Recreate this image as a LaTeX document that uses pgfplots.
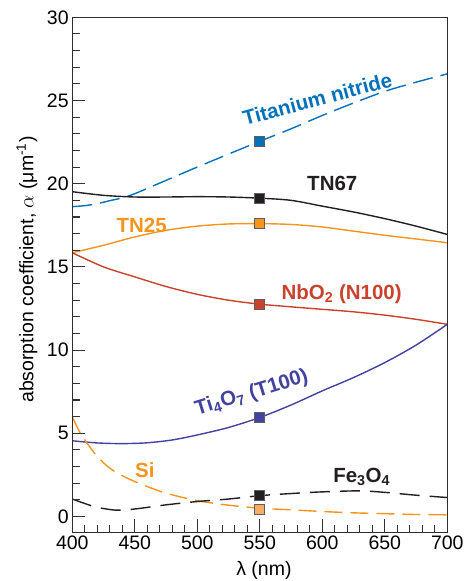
\documentclass[border=0pt]{standalone}
\usepackage{fontspec}
\setmainfont{Liberation Sans}
\usepackage{pgfplots}
\pgfplotsset{compat=1.18}
\definecolor{tinblue}{RGB}{0,114,188}
\definecolor{tnblack}{RGB}{35,31,32}
\definecolor{tnorange}{RGB}{247,148,29}
\definecolor{nbred}{RGB}{203,66,44}
\definecolor{tiblue}{RGB}{66,66,160}
\definecolor{silight}{RGB}{250,172,100}
\definecolor{mkedge}{RGB}{95,95,95}
\definecolor{axgray}{RGB}{45,45,45}
\begin{document}
\begin{tikzpicture}
\begin{axis}[
  name=ax,
  scale only axis,
  width=375pt, height=515pt,
  xmin=400, xmax=700, ymin=-0.95, ymax=30,
  xtick={400,450,...,700}, ytick={0,5,...,30},
  minor x tick num=4, minor y tick num=4,
  xtick align=inside, ytick align=inside,
  xtick pos=left, ytick pos=left,
  major tick length=13pt, minor tick length=7.5pt,
  tick style={black!80, line width=1.1pt},
  axis on top,
  /pgf/number format/assume math mode=true,
  ticklabel style={font=\fontsize{19.5}{22}\selectfont, inner sep=3.5pt},
  xticklabel style={/pgf/number format/1000 sep={}},
  xlabel={λ (nm)},
  ylabel={absorption coefficient, $\alpha$ (μm\textsuperscript{-1})},
  label style={font=\fontsize{19.5}{22}\selectfont},
  xlabel style={at={(axis description cs:0.511,-0.083)}, anchor=base},
  ylabel style={at={(axis description cs:-0.104,0.51)}, anchor=base},
  extra description/.code={
    \draw[axgray, line width=1.3pt] (rel axis cs:0,0) rectangle (rel axis cs:1,1);
  },
]
% Titanium nitride
\addplot[tinblue, smooth, line width=1.4pt, dash pattern=on 20pt off 8pt] coordinates {
 (400,18.62) (410,18.68) (420,18.8) (430,18.98) (440,19.15) (450,19.4) (475,20.2) (500,21.0) (525,21.78) (550,22.55) (575,23.3) (600,24.1) (625,24.85) (650,25.55) (675,26.1) (700,26.6)};
% TN67
\addplot[tnblack, smooth, line width=1.4pt] coordinates {
 (400,19.52) (425,19.3) (450,19.2) (475,19.2) (500,19.22) (525,19.2) (550,19.13) (575,19.0) (600,18.65) (625,18.3) (650,17.9) (675,17.45) (700,16.95)};
% TN25
\addplot[tnorange, smooth, line width=1.4pt] coordinates {
 (400,15.85) (425,16.3) (450,16.8) (475,17.2) (500,17.45) (525,17.58) (550,17.6) (575,17.55) (600,17.4) (625,17.15) (650,16.9) (675,16.68) (700,16.45)};
% NbO2
\addplot[nbred, smooth, line width=1.4pt] coordinates {
 (400,15.85) (425,15.0) (450,14.4) (475,13.82) (500,13.35) (525,13.0) (550,12.76) (575,12.6) (600,12.45) (625,12.3) (650,12.1) (675,11.85) (700,11.55)};
% Ti4O7
\addplot[tiblue, smooth, line width=1.4pt] coordinates {
 (400,4.55) (420,4.42) (440,4.38) (460,4.43) (480,4.6) (500,4.9) (525,5.35) (550,5.95) (575,6.7) (600,7.55) (625,8.35) (650,9.25) (675,10.3) (700,11.55)};
% Si
\addplot[tnorange, smooth, line width=1.4pt, dash pattern=on 18pt off 8pt] coordinates {
 (400,6.0) (405,5.2) (410,4.6) (420,3.6) (430,2.9) (440,2.45) (450,2.1) (460,1.8) (475,1.4) (500,0.95) (525,0.68) (550,0.5) (575,0.4) (600,0.3) (625,0.22) (650,0.17) (675,0.12) (700,0.1)};
% Fe3O4
\addplot[tnblack, smooth, line width=1.4pt, dash pattern=on 20pt off 10pt] coordinates {
 (400,1.05) (410,0.78) (420,0.55) (435,0.38) (450,0.45) (475,0.7) (500,0.9) (525,1.05) (550,1.25) (575,1.38) (600,1.48) (630,1.54) (650,1.45) (675,1.28) (700,1.14)};
% markers at 550 nm
\addplot[only marks, mark=square*, mark size=5pt, mark options={draw=mkedge, fill=tinblue, line width=0.8pt}] coordinates {(550,22.55)};
\addplot[only marks, mark=square*, mark size=5pt, mark options={draw=mkedge, fill=tnblack, line width=0.8pt}] coordinates {(550,19.1)};
\addplot[only marks, mark=square*, mark size=5pt, mark options={draw=mkedge, fill=tnorange, line width=0.8pt}] coordinates {(550,17.6)};
\addplot[only marks, mark=square*, mark size=5pt, mark options={draw=mkedge, fill=nbred, line width=0.8pt}] coordinates {(550,12.76)};
\addplot[only marks, mark=square*, mark size=5pt, mark options={draw=mkedge, fill=tiblue, line width=0.8pt}] coordinates {(550,5.94)};
\addplot[only marks, mark=square*, mark size=5pt, mark options={draw=mkedge, fill=tnblack, line width=0.8pt}] coordinates {(550,1.24)};
\addplot[only marks, mark=square*, mark size=5pt, mark options={draw=mkedge, fill=silight, line width=0.8pt}] coordinates {(550,0.44)};
% labels
\node[tinblue, font=\fontsize{20.5}{23}\selectfont\bfseries, rotate=15] at (axis cs:596,25.1) {Titanium nitride};
\node[tnblack, font=\fontsize{20.5}{23}\selectfont\bfseries] at (axis cs:608,20.0) {TN67};
\node[tnorange, font=\fontsize{20.5}{23}\selectfont\bfseries] at (axis cs:455.5,17.5) {TN25};
\node[nbred, font=\fontsize{20.5}{23}\selectfont\bfseries] at (axis cs:615.5,13.35) {NbO\textsubscript{2} (N100)};
\node[tiblue, font=\fontsize{20.5}{23}\selectfont\bfseries, rotate=17] at (axis cs:543.5,7.4) {Ti\textsubscript{4}O\textsubscript{7} (T100)};
\node[tnorange, font=\fontsize{20.5}{23}\selectfont\bfseries] at (axis cs:458,2.8) {Si};
\node[tnblack, font=\fontsize{20.5}{23}\selectfont\bfseries] at (axis cs:631.5,2.4) {Fe\textsubscript{3}O\textsubscript{4}};
\end{axis}
\pgfresetboundingbox
\path[use as bounding box] ([xshift=-72.3pt,yshift=-48.7pt]ax.south west) rectangle ([xshift=18.7pt,yshift=17.3pt]ax.north east);
\end{tikzpicture}
\end{document}
